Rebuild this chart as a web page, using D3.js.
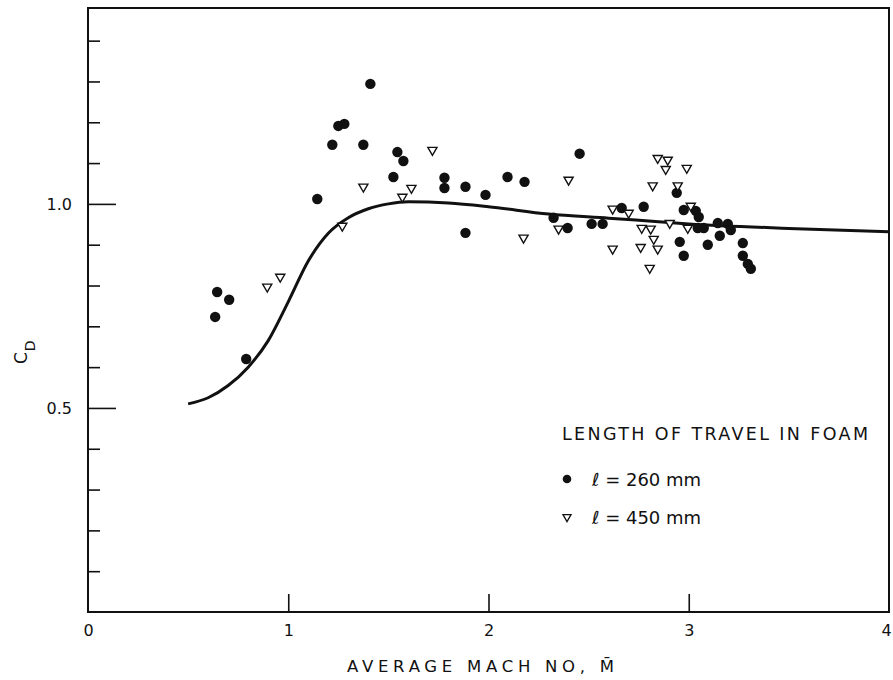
<!DOCTYPE html>
<html>
<head>
<meta charset="utf-8">
<script src="https://cdn.jsdelivr.net/npm/d3@7"></script>
<style>
  body { margin: 0; background: #fff; }
  svg { display: block; }
  text { font-family: "DejaVu Sans", sans-serif; fill: #111; }
</style>
</head>
<body>
<svg id="chart" width="893" height="680"></svg>
<script>
// C_D vs average Mach number, two foam travel lengths
const pts260 = [
  [0.635, 0.723], [0.645, 0.784], [0.705, 0.765], [0.79, 0.620],
  [1.145, 1.012], [1.22, 1.145], [1.25, 1.191], [1.28, 1.196],
  [1.375, 1.145], [1.41, 1.294], [1.525, 1.066], [1.545, 1.127],
  [1.575, 1.105], [1.78, 1.064], [1.78, 1.039], [1.885, 1.042],
  [1.885, 0.929], [1.985, 1.022], [2.095, 1.066], [2.18, 1.054],
  [2.325, 0.966], [2.395, 0.941], [2.455, 1.123], [2.515, 0.951],
  [2.57, 0.951], [2.665, 0.990], [2.775, 0.993], [2.94, 1.027],
  [2.955, 0.907], [2.975, 0.985], [2.975, 0.873], [3.035, 0.983],
  [3.05, 0.968], [3.045, 0.941], [3.075, 0.941], [3.095, 0.900],
  [3.145, 0.953], [3.155, 0.922], [3.195, 0.951], [3.21, 0.936],
  [3.27, 0.904], [3.27, 0.873], [3.295, 0.853], [3.31, 0.841]
]
const pts450 = [
  [0.895, 0.797], [0.96, 0.821], [1.27, 0.946], [1.375, 1.042],
  [1.57, 1.017], [1.615, 1.039], [1.72, 1.132], [2.175, 0.917],
  [2.35, 0.939], [2.40, 1.059], [2.62, 0.988], [2.62, 0.890],
  [2.70, 0.978], [2.76, 0.894], [2.765, 0.941], [2.81, 0.939],
  [2.805, 0.843], [2.82, 1.045], [2.825, 0.914], [2.845, 0.890],
  [2.845, 1.112], [2.885, 1.085], [2.895, 1.108], [2.905, 0.953],
  [2.945, 1.045], [2.99, 1.088], [2.995, 0.941], [3.01, 0.995]
]
const curvePts = [
  [0.5, 0.51], [0.6, 0.525], [0.7, 0.555], [0.8, 0.60], [0.9, 0.665],
  [1.0, 0.76], [1.1, 0.86], [1.2, 0.928], [1.3, 0.966], [1.4, 0.988],
  [1.5, 1.0], [1.6, 1.005], [1.8, 1.002], [2.0, 0.993], [2.3, 0.975],
  [2.6, 0.965], [2.8, 0.958], [3.0, 0.951], [3.5, 0.940], [4.0, 0.932]
]
const xTicks = [0, 1, 2, 3, 4]
const yTicks = [0.1, 0.2, 0.3, 0.4, 0.5, 0.6, 0.7, 0.8, 0.9, 1.0, 1.1, 1.2, 1.3, 1.4]
const yLabelled = [0.5, 1.0]

const svg = d3.select('#chart')
const x = d3.scaleLinear().domain([0, 4]).range([88, 889])
const y = d3.scaleLinear().domain([0, 1.48]).range([612, 8])

// frame
svg.append('rect')
  .attr('x', x(0)).attr('y', y(1.48))
  .attr('width', x(4) - x(0)).attr('height', y(0) - y(1.48))
  .attr('fill', 'none').attr('stroke', '#111').attr('stroke-width', 2)

const yAxis = svg.append('g')
  .attr('transform', `translate(${x(0)},0)`)
  .call(d3.axisLeft(y).tickValues(yTicks).tickSize(-12).tickPadding(16)
    .tickFormat(d => yLabelled.includes(d) ? d3.format('.1f')(d) : ''))
yAxis.select('.domain').remove()
yAxis.selectAll('.tick line')
  .attr('stroke', '#111').attr('stroke-width', 1.6)
  .attr('x2', d => yLabelled.includes(d) ? 28 : 12)
yAxis.selectAll('.tick text').attr('font-size', 16).attr('fill', '#111')

const xAxis = svg.append('g')
  .attr('transform', `translate(0,${y(0)})`)
  .call(d3.axisBottom(x).tickValues(xTicks).tickSize(-18).tickPadding(13)
    .tickFormat(d3.format('d')))
xAxis.select('.domain').remove()
xAxis.selectAll('.tick line').attr('stroke', '#111').attr('stroke-width', 1.6)
  .attr('display', d => (d === 0 || d === 4) ? 'none' : null)
xAxis.selectAll('.tick text').attr('font-size', 16).attr('fill', '#111')
  .attr('dx', d => d === 4 ? -3 : 0)

// axis titles
svg.append('text')
  .attr('x', 347).attr('y', 672)
  .attr('font-size', 16.5)
  .attr('textLength', 267).attr('lengthAdjust', 'spacing')
  .text('AVERAGE MACH NO, M\u0304')

const yTitle = svg.append('text')
  .attr('transform', 'translate(27,364) rotate(-90)')
  .attr('font-size', 17)
yTitle.append('tspan').text('C')
yTitle.append('tspan').attr('dy', 8).attr('dx', 1).attr('font-size', 14).text('D')

// theory curve
const line = d3.line()
  .x(d => x(d[0])).y(d => y(d[1]))
  .curve(d3.curveMonotoneX)
svg.append('path')
  .datum(curvePts)
  .attr('d', line)
  .attr('fill', 'none').attr('stroke', '#111').attr('stroke-width', 3)

// markers
const tri = d3.symbol().type(d3.symbolTriangle).size(36)

svg.append('g').selectAll('circle')
  .data(pts260)
  .join('circle')
  .attr('cx', d => x(d[0])).attr('cy', d => y(d[1]))
  .attr('r', 5.2).attr('fill', '#111')

svg.append('g').selectAll('path')
  .data(pts450)
  .join('path')
  .attr('d', tri)
  .attr('transform', d => `translate(${x(d[0])},${y(d[1])}) rotate(180)`)
  .attr('fill', '#fff').attr('stroke', '#111').attr('stroke-width', 1.4)

// legend
const lg = svg.append('g')
lg.append('text')
  .attr('x', 562).attr('y', 440)
  .attr('font-size', 17.5)
  .attr('textLength', 306).attr('lengthAdjust', 'spacing')
  .text('LENGTH OF TRAVEL IN FOAM')
lg.append('circle').attr('cx', 567).attr('cy', 479).attr('r', 4.3).attr('fill', '#111')
lg.append('path').attr('d', d3.symbol().type(d3.symbolTriangle).size(28))
  .attr('transform', 'translate(567,517) rotate(180)')
  .attr('fill', '#fff').attr('stroke', '#111').attr('stroke-width', 1.3)
lg.append('text').attr('x', 592).attr('y', 486).attr('font-size', 18)
  .text('\u2113 = 260 mm')
lg.append('text').attr('x', 592).attr('y', 524).attr('font-size', 18)
  .text('\u2113 = 450 mm')
</script>
</body>
</html>
